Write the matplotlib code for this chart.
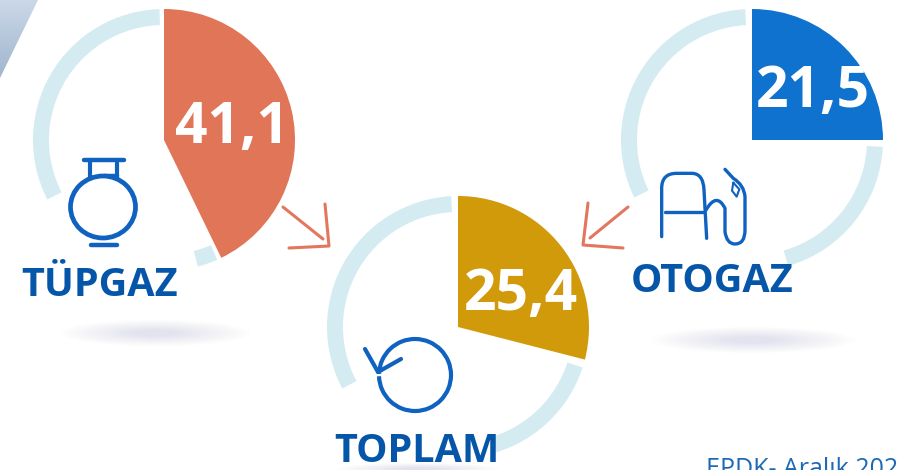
import numpy as np
import matplotlib
matplotlib.use("Agg")
import matplotlib.pyplot as plt
from matplotlib.patches import Wedge, Ellipse, Polygon, Arc, PathPatch
from matplotlib.path import Path

categories = ["TÜPGAZ", "TOPLAM", "OTOGAZ"]
values = [41.1, 25.4, 21.5]
value_labels = ["41,1", "25,4", "21,5"]
# Share of the circle each slice actually covers in the picture (it differs from the label)
drawn_share = [42.8, 29.0, 25.0]
colors = ["#E07558", "#D09A0A", "#0E72CE"]
source = "EPDK- Aralık 202"

RING = "#D5EBF2"
BLUE = "#0556A8"
ICON = "#0F62C0"
ARROW = "#E2765E"
plt.rcParams["font.family"] = ["Open Sans", "DejaVu Sans"]

fig = plt.figure(figsize=(8.97, 4.7), dpi=100)
ax = fig.add_axes([0, 0, 1, 1])
ax.set_xlim(0, 897)
ax.set_ylim(470, 0)
ax.axis("off")

centers = [(164, 140), (458, 327), (752, 140)]
R, r_in = 131, 115
rings = [
    [(156, 165), (243, 358)],
    [(108, 163), (242, 357)],
    [(93, 164), (244, 357)],
]
val_pos = [(232, 128), (521, 295), (813, 92)]
cat_pos = [(100, 285), (417, 452), (712, 281)]


def wedge(c, a0, a1, rin, **kw):
    return Wedge(c, R, a0 - 90, a1 - 90, width=R - rin, **kw)


# Corner decoration
grad = np.linspace(0, 1, 80).reshape(-1, 1)
cm = matplotlib.colors.LinearSegmentedColormap.from_list("c", ["#CBD8E8", "#9FB4CE"])
im = ax.imshow(grad, extent=(0, 40, 80, 0), cmap=cm, aspect="auto", zorder=1)
corner = Polygon([(0, 0), (38, 0), (0, 78)], closed=True, transform=ax.transData, fc="none", ec="none")
ax.add_patch(corner)
im.set_clip_path(corner)
ax.set_xlim(0, 897)
ax.set_ylim(470, 0)

# Soft shadows
for cx, cy, w, h in [(155, 333, 190, 26), (753, 340, 205, 26), (418, 469, 165, 12)]:
    for k in np.linspace(1, 0.25, 14):
        ax.add_patch(Ellipse((cx, cy), w * k, h * k, fc="#A0A6C8", ec="none", alpha=0.018, zorder=1))

for c, share, col, rg, vl, vp, name, np_ in zip(centers, drawn_share, colors, rings, value_labels, val_pos, categories, cat_pos):
    for a0, a1 in rg:
        ax.add_patch(wedge(c, a0, a1, r_in, fc=RING, ec="none", zorder=2))
    ax.add_patch(Wedge(c, R, -90, -90 + share * 3.6, fc=col, ec="none", zorder=3))
    ax.text(vp[0], vp[1], vl, color="white", fontsize=41, fontweight="bold", ha="center", va="center", zorder=5)
    ax.text(np_[0], np_[1], name, color=BLUE, fontsize=28.5, fontweight="bold", ha="center", va="center", zorder=5)

ax.text(706, 476, source, color="#1E69B4", fontsize=18, ha="left", va="baseline", zorder=5, clip_on=True)


def line(pts, color=ICON, lw=3, z=4):
    p = np.array(pts)
    ax.plot(p[:, 0], p[:, 1], color=color, lw=lw, solid_capstyle="round", solid_joinstyle="round", zorder=z)


# Arrows
line([(283, 207), (323, 239)], ARROW, 2.2)
line([(325, 204), (329, 246), (289, 248)], ARROW, 2.2)
line([(628, 207), (590, 238)], ARROW, 2.2)
line([(588, 203), (583, 245), (623, 248)], ARROW, 2.2)

# Gas cylinder icon
line([(84, 160), (124, 160)], lw=3.2)
line([(90, 162), (90, 177)], lw=3)
line([(117, 163), (117, 177)], lw=3)
line([(104, 175), (117, 175)], lw=2.5)
line([(91, 245), (117, 245)], lw=3.2)
ax.add_patch(Ellipse((103, 207), 65, 62, fc="none", ec=ICON, lw=3.4, zorder=4))

# Total icon
ax.add_patch(Arc((415, 375), 72, 72, theta1=-178, theta2=178, ec=ICON, lw=3, zorder=4))
ax.plot([378, 365], [372, 349], color=ICON, lw=3, solid_capstyle="round", zorder=4)
ax.plot([378, 401], [372, 359], color=ICON, lw=3, solid_capstyle="round", zorder=4)

# Fuel pump icon
def Z(x, y):
    return (570 + x / 3, y / 3)


C3, M, L = Path.CURVE3, Path.MOVETO, Path.LINETO
body = [(M, (275, 710)), (L, (275, 565)), (C3, (275, 520)), (C3, (320, 520)), (L, (365, 520)),
        (C3, (400, 520)), (C3, (402, 570)), (L, (410, 715))]
hose = [(M, (408, 630)), (C3, (440, 575)), (C3, (465, 625)), (L, (465, 695)), (C3, (470, 732)),
        (C3, (495, 732)), (C3, (525, 732)), (C3, (525, 690)), (L, (525, 590)), (C3, (522, 555)),
        (C3, (490, 535)), (L, (465, 508))]
for seg in (body, hose):
    codes = [s[0] for s in seg]
    verts = [Z(*s[1]) for s in seg]
    ax.add_patch(PathPatch(Path(verts, codes), fc="none", ec=ICON, lw=2.4, capstyle="round", zorder=4))
line([Z(285, 635), Z(400, 635)], lw=2.4)
line([Z(490, 548), Z(486, 572), Z(500, 590), Z(508, 568), Z(490, 548)], lw=1.5)

fig.savefig("out.png", dpi=100)
